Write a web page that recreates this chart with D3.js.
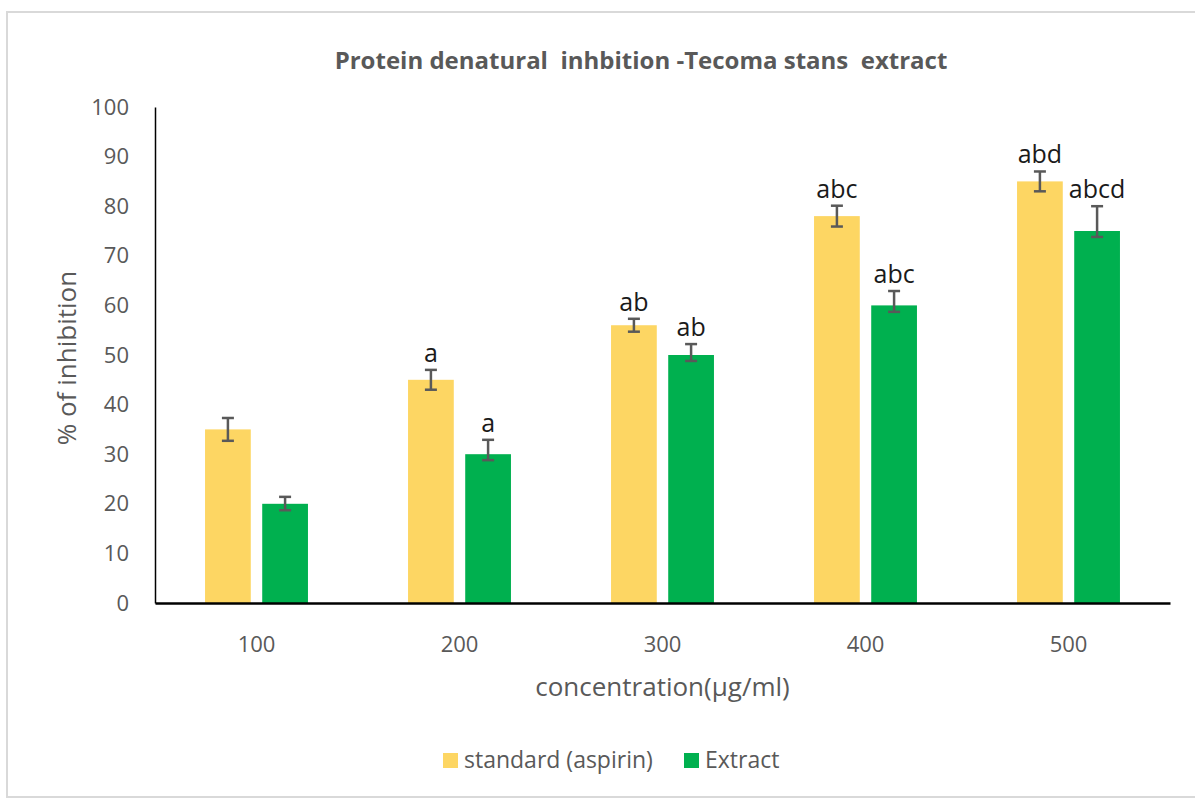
<!DOCTYPE html>
<html>
<head>
<meta charset="utf-8">
<script src="https://cdnjs.cloudflare.com/ajax/libs/d3/7.8.5/d3.min.js"></script>
<style>
  body { margin: 0; background: #fff; }
  text { font-family: "Open Sans", sans-serif; }
</style>
</head>
<body>
<svg id="chart" width="1195" height="798"></svg>
<script>
  // data
  const categories = ["100", "200", "300", "400", "500"]
  const seriesNames = ["standard (aspirin)", "Extract"]
  const standardValues = [35, 45, 56, 78, 85]
  const extractValues = [20, 30, 50, 60, 75]
  const standardErrPlus = [2.3, 2, 1.3, 2.1, 2]
  const standardErrMinus = [2.3, 2, 1.3, 2.1, 2]
  const extractErrPlus = [1.4, 2.9, 2.2, 2.9, 5]
  const extractErrMinus = [1.3, 1.2, 1.2, 1.3, 1.2]
  const standardLetters = ["", "a", "ab", "abc", "abd"]
  const extractLetters = ["", "a", "ab", "abc", "abcd"]
  const yTicks = [0, 10, 20, 30, 40, 50, 60, 70, 80, 90, 100]
  const colors = ["#FDD663", "#00B04F"]

  let margin = {top: 107, right: 25, bottom: 195, left: 155}
  let W = 1195, H = 798

  let rows = categories.map((c, i) => ({
    cat: c,
    bars: [
      {s: seriesNames[0], v: standardValues[i], up: standardErrPlus[i], dn: standardErrMinus[i], lab: standardLetters[i]},
      {s: seriesNames[1], v: extractValues[i], up: extractErrPlus[i], dn: extractErrMinus[i], lab: extractLetters[i]}
    ]
  }))

  let svg = d3.select("#chart")

  // outer frame
  svg.append("rect")
    .attr("x", 7).attr("y", 12)
    .attr("width", W).attr("height", 785)
    .attr("fill", "#fff")
    .attr("stroke", "#d9d9d9")
    .attr("stroke-width", 2)

  let x0 = d3.scaleBand()
    .domain(categories)
    .range([margin.left, W - margin.right])
    .paddingInner(0.493)
    .paddingOuter(0.2465)

  let x1 = d3.scaleBand()
    .domain(seriesNames)
    .range([0, x0.bandwidth()])
    .paddingInner(0.2)

  let y = d3.scaleLinear()
    .domain([0, 100])
    .range([H - margin.bottom, margin.top])

  let color = d3.scaleOrdinal().domain(seriesNames).range(colors)

  // bars
  let groups = svg.append("g").selectAll("g")
    .data(rows).enter()
    .append("g")
    .attr("transform", d => `translate(${x0(d.cat)},0)`)

  groups.selectAll("rect")
    .data(d => d.bars).enter()
    .append("rect")
    .attr("x", d => x1(d.s))
    .attr("y", d => y(d.v))
    .attr("width", x1.bandwidth())
    .attr("height", d => y(0) - y(d.v))
    .attr("fill", d => color(d.s))

  // error bars
  let eb = groups.selectAll("g.err")
    .data(d => d.bars).enter()
    .append("g")
    .attr("class", "err")
    .attr("stroke", "#595959")
    .attr("stroke-width", 2.5)
  eb.append("line")
    .attr("x1", d => x1(d.s) + x1.bandwidth() / 2)
    .attr("x2", d => x1(d.s) + x1.bandwidth() / 2)
    .attr("y1", d => y(d.v + d.up))
    .attr("y2", d => y(d.v - d.dn))
  eb.append("line")
    .attr("x1", d => x1(d.s) + x1.bandwidth() / 2 - 6)
    .attr("x2", d => x1(d.s) + x1.bandwidth() / 2 + 6)
    .attr("y1", d => y(d.v + d.up))
    .attr("y2", d => y(d.v + d.up))
  eb.append("line")
    .attr("x1", d => x1(d.s) + x1.bandwidth() / 2 - 6)
    .attr("x2", d => x1(d.s) + x1.bandwidth() / 2 + 6)
    .attr("y1", d => y(d.v - d.dn))
    .attr("y2", d => y(d.v - d.dn))

  // significance letters
  groups.selectAll("text.lab")
    .data(d => d.bars).enter()
    .append("text")
    .attr("class", "lab")
    .attr("x", d => x1(d.s) + x1.bandwidth() / 2)
    .attr("y", d => y(d.v + d.up) - 8)
    .attr("text-anchor", "middle")
    .attr("font-size", 25)
    .attr("fill", "#1a1a1a")
    .text(d => d.lab)

  // axes
  let yAxis = d3.axisLeft(y).tickValues(yTicks).tickSize(0).tickPadding(26)
  let gy = svg.append("g")
    .attr("transform", `translate(${margin.left},0)`)
    .call(yAxis)
  gy.select(".domain").attr("stroke", "#000").attr("stroke-width", 1.5)
  gy.selectAll("text").attr("font-size", 22).attr("fill", "#595959")
    .attr("font-family", "Open Sans, sans-serif")

  let xAxis = d3.axisBottom(x0).tickSize(0).tickSizeOuter(0).tickPadding(33)
  let gx = svg.append("g")
    .attr("transform", `translate(0,${H - margin.bottom})`)
    .call(xAxis)
  gx.select(".domain").attr("stroke", "#000").attr("stroke-width", 2.5)
  gx.selectAll("text").attr("font-size", 22).attr("fill", "#595959")
    .attr("font-family", "Open Sans, sans-serif")

  // title and axis titles
  svg.append("text")
    .attr("x", 641).attr("y", 69)
    .attr("text-anchor", "middle")
    .attr("font-size", 24)
    .attr("font-weight", "bold")
    .attr("fill", "#595959")
    .style("white-space", "pre")
    .text("Protein denatural  inhbition -Tecoma stans  extract")

  svg.append("text")
    .attr("x", x0.range()[0] + (x0.range()[1] - x0.range()[0]) / 2)
    .attr("y", 696)
    .attr("text-anchor", "middle")
    .attr("font-size", 26)
    .attr("fill", "#595959")
    .text("concentration(μg/ml)")

  svg.append("text")
    .attr("transform", "translate(76,358) rotate(-90)")
    .attr("text-anchor", "middle")
    .attr("font-size", 26)
    .attr("fill", "#595959")
    .text("% of inhibition")

  // legend
  let legendX = [443, 684]
  let lg = svg.append("g").selectAll("g")
    .data(seriesNames).enter()
    .append("g")
    .attr("transform", (d, i) => `translate(${legendX[i]},760)`)
  lg.append("rect")
    .attr("x", 0).attr("y", -7)
    .attr("width", 15).attr("height", 15)
    .attr("fill", d => color(d))
  lg.append("text")
    .attr("x", 21).attr("y", 8)
    .attr("font-size", 23)
    .attr("fill", "#595959")
    .text(d => d)
</script>
</body>
</html>
